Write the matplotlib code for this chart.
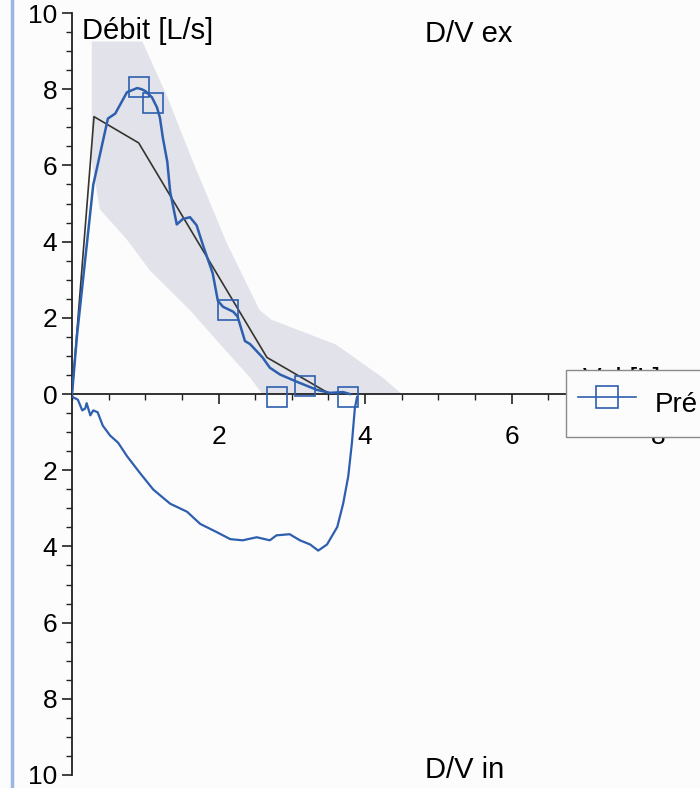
import matplotlib
matplotlib.use("Agg")
import matplotlib.pyplot as plt
from matplotlib.lines import Line2D
from matplotlib.ticker import MultipleLocator, FuncFormatter
import numpy as np

plt.rcParams['font.family'] = ['Liberation Sans', 'DejaVu Sans']

# ---- data (volume [L], flow [L/s]) ----
band_upper_v = [0.29, 0.96, 1.30, 1.65, 2.11, 2.56, 2.72, 3.60, 4.24, 4.50]
band_upper_f = [9.25, 9.25, 7.80, 6.10, 3.97, 2.20, 1.95, 1.30, 0.43, 0.00]
band_lower_v = [2.60, 2.43, 2.02, 1.61, 1.06, 0.75, 0.38, 0.27, 0.27]
band_lower_f = [0.00, 0.43, 1.31, 2.20, 3.25, 4.05, 4.85, 6.10, 9.25]

pred_v = [0.00, 0.30, 0.91, 2.66, 3.52]
pred_f = [0.00, 7.28, 6.59, 0.96, 0.00]

exp_v = [0.00, 0.07, 0.29, 0.49, 0.59, 0.75, 0.89, 0.95, 1.00, 1.09, 1.16, 1.20, 1.24,
         1.30, 1.34, 1.43, 1.51, 1.61, 1.70, 1.79, 1.92, 1.99, 2.06, 2.20, 2.26,
         2.36, 2.43, 2.60, 2.70, 2.84, 3.07, 3.34, 3.52, 3.70, 3.79]
exp_f = [0.00, 1.57, 5.49, 7.23, 7.36, 7.92, 8.03, 8.00, 7.95, 7.79, 7.52, 7.25, 6.72,
         6.10, 5.30, 4.45, 4.59, 4.64, 4.43, 3.89, 3.17, 2.45, 2.29, 2.16, 2.03,
         1.39, 1.31, 0.96, 0.69, 0.51, 0.32, 0.11, 0.03, 0.05, 0.00]

insp_v = [0.00, 0.08, 0.14, 0.18, 0.20, 0.25, 0.29, 0.35, 0.42, 0.52, 0.63, 0.75,
          0.93, 1.11, 1.34, 1.57, 1.75, 1.98, 2.16, 2.33, 2.52, 2.70, 2.79, 2.97,
          3.11, 3.25, 3.36, 3.48, 3.62, 3.70, 3.77, 3.82, 3.86, 3.89]
insp_f = [0.07, 0.15, 0.43, 0.38, 0.24, 0.56, 0.43, 0.48, 0.83, 1.09, 1.28, 1.63,
          2.08, 2.51, 2.88, 3.09, 3.41, 3.63, 3.81, 3.84, 3.76, 3.84, 3.71, 3.68,
          3.84, 3.95, 4.11, 3.95, 3.49, 2.88, 2.16, 1.28, 0.37, 0.08]

mark_v = [0.91, 1.10, 2.13, 2.80, 3.18, 3.77]
mark_f = [8.05, 7.63, 2.21, -0.08, 0.21, -0.08]

y_ticks = [-10, -8, -6, -4, -2, 0, 2, 4, 6, 8, 10]
x_ticks = [2, 4, 6, 8]
legend_label = "Pré"

# ---- figure ----
W, H = 700, 788
bg = '#fcfcfc'
fig = plt.figure(figsize=(W / 100, H / 100), dpi=100, facecolor=bg)
ax = fig.add_axes([72 / W, 13 / H, 1 - 72 / W, (775 - 13) / H])
ax.set_facecolor(bg)

blue = '#2e5fae'
band_col = '#e2e2ea'

# band
bx = band_upper_v + band_lower_v
by = band_upper_f + band_lower_f
ax.fill(bx, by, color=band_col, lw=0, zorder=1)

# predicted
ax.plot(pred_v, pred_f, color='#35342d', lw=1.2, zorder=3)
# measured expiratory
ax.plot(exp_v, exp_f, color=blue, lw=1.8, zorder=4)
# measured inspiratory (plotted downward)
ax.plot(insp_v, [-f for f in insp_f], color=blue, lw=1.6, zorder=4)
# markers
ax.plot(mark_v, mark_f, ls='none', marker='s', ms=15, mfc='none', mec=blue,
        mew=1.2, zorder=5)

ax.set_xlim(0, 8.57)
ax.set_ylim(-10, 10)

for s in ['top', 'right']:
    ax.spines[s].set_visible(False)
ax.spines['bottom'].set_position(('data', 0))
ax.spines['left'].set_position(('data', 0))
for s in ['left', 'bottom']:
    ax.spines[s].set_linewidth(1.3)
    ax.spines[s].set_color('#222222')

ax.set_yticks(y_ticks)
ax.yaxis.set_major_formatter(FuncFormatter(lambda v, p: f"{abs(int(round(v)))}"))
ax.yaxis.set_minor_locator(MultipleLocator(0.5))
ax.set_xticks(x_ticks)
ax.xaxis.set_minor_locator(MultipleLocator(0.5))
ax.tick_params(axis='both', which='major', length=7.5, width=1.2, labelsize=19,
               color='#222222')
ax.tick_params(axis='both', which='minor', length=4.5, width=1.0, color='#222222')
ax.tick_params(axis='x', which='both', direction='out', pad=15)
ax.tick_params(axis='y', which='both', direction='out', pad=3)

# texts
ax.text(0.14, 9.31, "Débit [L/s]", fontsize=21, ha='left', va='baseline', zorder=6)
ax.text(4.82, 9.23, "D/V ex", fontsize=21, ha='left', va='baseline')
ax.text(4.82, -10.08, "D/V in", fontsize=21, ha='left', va='baseline')
ax.text(6.97, 0.72, "Vol [L]", fontsize=20, ha='left', va='top', zorder=2)

# legend (extends past the right edge, as in the reference)
handle = Line2D([], [], color=blue, lw=1.2, marker='s', ms=15.5, mfc='none',
                mec=blue, mew=1.2)
leg = fig.legend([handle], [legend_label], loc='upper left',
                 bbox_to_anchor=(566 / W, 1 - 370 / H, 0.3, 0),
                 bbox_transform=fig.transFigure, mode='expand',
                 fontsize=20, frameon=True, fancybox=False, borderaxespad=0,
                 handlelength=2.07, handleheight=2.0, handletextpad=0.68,
                 borderpad=0.44)
leg.get_frame().set_edgecolor('#8a8a8a')
leg.get_frame().set_facecolor(bg)
leg.get_frame().set_alpha(1)
leg.get_frame().set_linewidth(1.0)
leg.set_zorder(10)

# scan frame line at left
fig.add_artist(Line2D([12 / W, 12 / W], [0, 1], transform=fig.transFigure,
                      color='#9bb6e0', lw=2.5))

fig.savefig("out.png", dpi=100, facecolor=fig.get_facecolor())
